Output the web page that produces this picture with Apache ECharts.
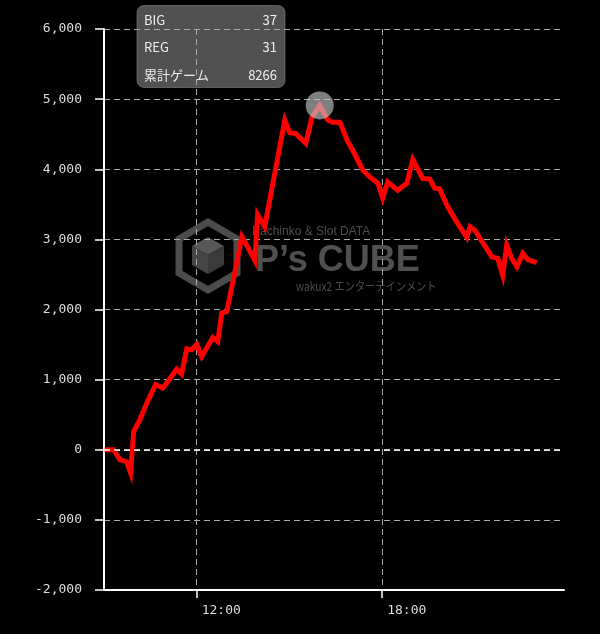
<!DOCTYPE html>
<html>
<head>
<meta charset="utf-8">
<script src="https://cdn.jsdelivr.net/npm/echarts@6/dist/echarts.min.js"></script>
<style>
html,body{margin:0;padding:0;background:#000;}
#c{width:600px;height:634px;}
</style>
</head>
<body>
<div id="c"></div>
<script>
// Time of day (decimal hours) and cumulative difference values
const times = [9.02, 9.31, 9.51, 9.73, 9.86, 9.96, 10.16, 10.41, 10.67, 10.90,
  11.06, 11.35, 11.51, 11.68, 11.84, 12.00, 12.16, 12.52, 12.68, 12.81,
  12.97, 13.23, 13.46, 13.65, 13.88, 13.97, 14.20, 14.85, 15.01, 15.20,
  15.53, 15.72, 15.98, 16.24, 16.40, 16.63, 16.89, 17.05, 17.37, 17.60,
  17.86, 18.02, 18.18, 18.50, 18.80, 18.99, 19.31, 19.54, 19.70, 19.86,
  20.09, 20.41, 20.74, 20.84, 21.00, 21.26, 21.55, 21.74, 21.90, 22.03,
  22.19, 22.36, 22.55, 22.71, 23.00];
const values = [0, 0, -140, -170, -330, 260, 430, 690, 930, 880,
  970, 1150, 1080, 1440, 1425, 1500, 1330, 1600, 1540, 1950,
  1970, 2520, 3040, 2890, 2700, 3350, 3180, 4700, 4520, 4510,
  4370, 4730, 4910, 4700, 4670, 4670, 4390, 4270, 3990, 3890,
  3800, 3590, 3820, 3700, 3800, 4140, 3870, 3860, 3730, 3720,
  3490, 3250, 3030, 3180, 3130, 2950, 2750, 2730, 2490, 2920,
  2730, 2610, 2800, 2710, 2670];
const xTickHours = [12, 18];
const yMin = -2000, yMax = 6000, yStep = 1000;
const xMin = 9, xMax = 23 + 53 / 60;
const statLabels = ['BIG', 'REG', '累計ゲーム'];
const statValues = [37, 31, 8266];

const chart = echarts.init(document.getElementById('c'), null, {renderer: 'canvas'});

const wm = '#4c4c4c';
const graphics = [
  // watermark logo
  {type: 'polygon', z: -2, shape: {points: [[208,222],[237,239],[237,273],[208,290],[179,273],[179,239]]},
    style: {fill: 'none', stroke: wm, lineWidth: 7}},
  {type: 'polygon', z: -2, shape: {points: [[208,237],[224,246],[208,255],[192,246]]}, style: {fill: '#585858'}},
  {type: 'polygon', z: -2, shape: {points: [[192,246],[208,255],[208,274],[192,265]]}, style: {fill: '#454545'}},
  {type: 'polygon', z: -2, shape: {points: [[208,255],[224,246],[224,265],[208,274]]}, style: {fill: '#3a3a3a'}},
  {type: 'text', z: -2, x: 252, y: 232, style: {text: 'Pachinko & Slot DATA', fill: wm, font: '12px "Liberation Sans"', verticalAlign: 'middle'}},
  {type: 'text', z: -2, x: 255, y: 261, style: {text: 'P’s CUBE', fill: '#505050', font: 'bold 36px "Liberation Sans"', verticalAlign: 'middle'}},
  {type: 'text', z: -2, x: 296, y: 286, scaleX: 0.85, style: {text: 'wakux2 エンターテインメント', fill: wm, font: '12px "Noto Sans CJK JP"', verticalAlign: 'middle'}},
  // info box
  {type: 'rect', z: -1, shape: {x: 137, y: 5.5, width: 148, height: 82, r: 7},
    style: {fill: 'rgba(88,88,88,0.92)', stroke: 'rgba(150,150,150,0.5)', lineWidth: 1}}
];
const rowY = [20, 47, 75];
statLabels.forEach((lab, i) => {
  graphics.push({type: 'text', z: -1, x: 144, y: rowY[i], style: {text: lab, fill: '#eeeeee', font: '13px "Noto Sans CJK JP"', verticalAlign: 'middle'}});
  graphics.push({type: 'text', z: -1, x: 277, y: rowY[i], style: {text: String(statValues[i]), fill: '#eeeeee', font: '13px "Noto Sans CJK JP"', verticalAlign: 'middle', align: 'right'}});
});

const option = {
  backgroundColor: '#000000',
  animation: false,
  graphic: graphics,
  grid: {left: 104, right: 36, top: 29, bottom: 44},
  xAxis: {
    type: 'value', min: xMin, max: xMax,
    axisLine: {show: true, onZero: false, lineStyle: {color: '#ffffff', width: 2}},
    axisTick: {show: true, length: 8, customValues: xTickHours, lineStyle: {color: '#ffffff', width: 1.5}},
    axisLabel: {customValues: xTickHours, color: '#dddddd', fontFamily: 'DejaVu Sans Mono', fontSize: 13,
      align: 'left', margin: 14, padding: [0, 0, 0, 5],
      formatter: v => String(Math.round(v)).padStart(2, '0') + ':00'},
    splitLine: {show: true, lineStyle: {color: '#aaaaaa', type: [6, 4], width: 1}}
  },
  yAxis: {
    type: 'value', min: yMin, max: yMax, interval: yStep,
    axisLine: {show: true, lineStyle: {color: '#ffffff', width: 2}},
    axisTick: {show: true, length: 9, lineStyle: {color: '#ffffff', width: 1.5}},
    axisLabel: {color: '#dddddd', fontFamily: 'DejaVu Sans Mono', fontSize: 13, margin: 22,
      formatter: v => v.toLocaleString('en-US')},
    splitLine: {show: true, lineStyle: {color: '#aaaaaa', type: [6, 4], width: 1}}
  },
  series: [{
    type: 'line',
    data: times.map((t, i) => [t, values[i]]),
    symbol: 'none',
    lineStyle: {color: '#ff0000', width: 5, join: 'miter'},
    markLine: {
      silent: true, symbol: 'none', label: {show: false},
      lineStyle: {color: '#ffffff', type: [6, 4], width: 1.5},
      data: [{yAxis: 0}]
    },
    markPoint: {
      symbol: 'circle', symbolSize: 28, label: {show: false},
      itemStyle: {color: 'rgba(195,195,195,0.65)'},
      data: [{type: 'max'}]
    }
  }]
};
chart.setOption(option);
</script>
</body>
</html>
